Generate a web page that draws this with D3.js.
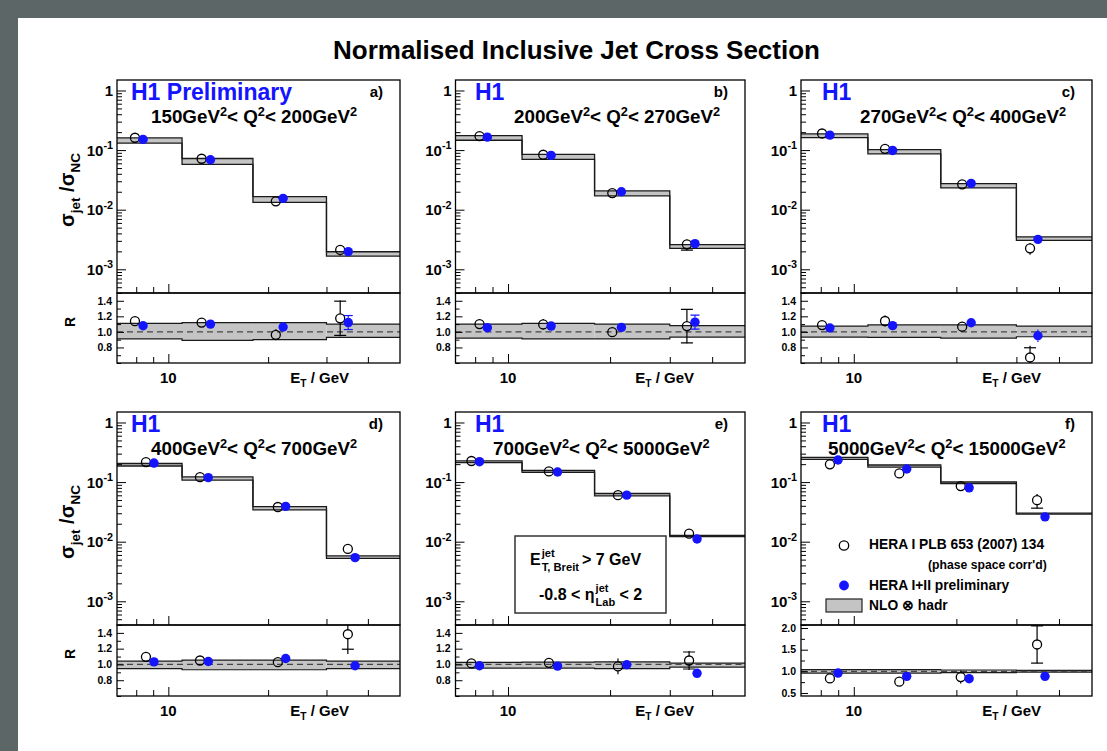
<!DOCTYPE html>
<html>
<head>
<meta charset="utf-8">
<script src="https://cdn.jsdelivr.net/npm/d3@7"></script>
<style>
  body { margin: 0; background: #fff; }
  svg { display: block; }
  text { font-family: "Liberation Sans", Arial, Helvetica, sans-serif; font-weight: bold; fill: #000; }
</style>
</head>
<body>
<svg id="chart" width="1107" height="751"></svg>
<script>
// ---------------- data ----------------
const etEdges = [7, 11, 18, 30, 50];
const xMinorTicks = [8, 9, 20, 30, 40];
const xMajorTicks = [10];
const xLabelValues = [10];
const xLabelText = ["10"];

const panelTags = ["a)", "b)", "c)", "d)", "e)", "f)"];
const q2Low = ["150", "200", "270", "400", "700", "5000"];
const q2High = ["200", "270", "400", "700", "5000", "15000"];
const h1Labels = ["H1 Preliminary", "H1", "H1", "H1", "H1", "H1"];

const sigmaTickValues = [1, 0.1, 0.01, 0.001];
const sigmaTickBase = ["1", "10", "10", "10"];
const sigmaTickExp = ["", "-1", "-2", "-3"];
const ratioTickValues = [0.8, 1.0, 1.2, 1.4];
const ratioTickText = ["0.8", "1.0", "1.2", "1.4"];
const ratioTickValuesF = [0.5, 1.0, 1.5, 2.0];
const ratioTickTextF = ["0.5", "1.0", "1.5", "2.0"];

// mean E_T of each measured bin (GeV)
const heraIEt = [
  [7.93, 12.6, 21.1, 33.0], [8.24, 12.7, 20.3, 33.7], [8.07, 12.35, 20.8, 32.9],
  [8.56, 12.46, 21.4, 34.8], [7.8, 13.2, 21.1, 34.2], [8.51, 13.6, 20.6, 34.5]
];
const heraIIEt = [
  [8.39, 13.4, 22.2, 34.9], [8.69, 13.4, 21.6, 35.6], [8.51, 13.0, 22.1, 34.7],
  [9.05, 13.2, 22.6, 36.6], [8.24, 14.0, 22.4, 36.1], [8.99, 14.3, 21.8, 36.4]
];

// normalised jet cross sections sigma_jet / sigma_NC
const heraIXsec = [
  [0.161, 0.0716, 0.0138, 0.00211], [0.172, 0.0835, 0.0190, 0.00262],
  [0.190, 0.105, 0.0266, 0.00225], [0.217, 0.121, 0.0382, 0.00756],
  [0.226, 0.151, 0.0604, 0.01365], [0.1985, 0.140, 0.0857, 0.0497]
];
const heraIIXsec = [
  [0.151, 0.0689, 0.0155, 0.00198], [0.165, 0.0814, 0.0200, 0.00269],
  [0.178, 0.0987, 0.0276, 0.00318], [0.2085, 0.119, 0.0392, 0.0054],
  [0.220, 0.1475, 0.0604, 0.0111], [0.235, 0.1656, 0.0802, 0.0261]
];
const nloXsec = [
  [0.144, 0.0645, 0.01476, 0.00179], [0.159, 0.0766, 0.0188, 0.00241],
  [0.174, 0.0932, 0.0252, 0.00326], [0.197, 0.1157, 0.0367, 0.00556],
  [0.222, 0.152, 0.0623, 0.01255], [0.25, 0.186, 0.0975, 0.0296]
];
// relative NLO x hadronisation uncertainty (up / down)
const nloErrUp = [
  [0.11, 0.12, 0.12, 0.10], [0.10, 0.11, 0.10, 0.08], [0.075, 0.09, 0.09, 0.075],
  [0.042, 0.054, 0.054, 0.042], [0.025, 0.03, 0.033, 0.017], [0.04, 0.04, 0.03, 0.02]
];
const nloErrDown = [
  [0.09, 0.11, 0.10, 0.07], [0.08, 0.09, 0.09, 0.067], [0.067, 0.07, 0.08, 0.0625],
  [0.054, 0.067, 0.067, 0.054], [0.046, 0.046, 0.054, 0.033], [0.04, 0.04, 0.03, 0.02]
];

// data / theory ratios
const heraIRatio = [
  [1.1375, 1.12, 0.9625, 1.175], [1.10, 1.096, 0.996, 1.075], [1.0875, 1.14, 1.067, 0.671],
  [1.096, 1.05, 1.029, 1.383], [1.0125, 1.02, 0.975, 1.05], [0.837, 0.76, 0.868, 1.62]
];
const heraIIRatio = [
  [1.079, 1.10, 1.0625, 1.12], [1.054, 1.075, 1.058, 1.125], [1.05, 1.08, 1.117, 0.95],
  [1.033, 1.0375, 1.075, 0.983], [0.983, 0.979, 0.996, 0.8875], [0.96, 0.884, 0.83, 0.884]
];
// total (line) and statistical (capped) uncertainties on the ratios
const heraITotErr = [
  [0.03, 0.03, 0.07, 0.23], [0.03, 0.07, 0.05, 0.22], [0.03, 0.07, 0.06, 0.15],
  [0.03, 0.03, 0.06, 0.25], [0.03, 0.03, 0.10, 0.12], [0.05, 0.05, 0.15, 0.44]
];
const heraIStatErr = [
  [0.02, 0.02, 0.04, 0.22], [0.02, 0.03, 0.03, 0.215], [0.02, 0.03, 0.03, 0.125],
  [0.02, 0.02, 0.03, 0.19], [0.02, 0.02, 0.03, 0.108], [0.03, 0.03, 0.12, 0.43]
];
const heraIITotErr = [
  [0.02, 0.02, 0.02, 0.09], [0.02, 0.02, 0.02, 0.09], [0.02, 0.02, 0.02, 0.08],
  [0.02, 0.02, 0.02, 0.05], [0.02, 0.02, 0.02, 0.04], [0.02, 0.02, 0.03, 0.05]
];
const heraIIStatErr = [
  [0.01, 0.01, 0.01, 0.09], [0.01, 0.01, 0.01, 0.09], [0.01, 0.01, 0.01, 0.05],
  [0.01, 0.01, 0.01, 0.03], [0.01, 0.01, 0.01, 0.03], [0.01, 0.01, 0.02, 0.03]
];

// ---------------- drawing ----------------
const BLUE = "#1414ff";
const BAND = "#c4c4c4";
const svg = d3.select("#chart");

svg.append("rect").attr("x", 0).attr("y", 0).attr("width", 1107).attr("height", 751).attr("fill", "#fff");
svg.append("rect").attr("x", 0).attr("y", 0).attr("width", 1107).attr("height", 18).attr("fill", "#5c6666");
svg.append("rect").attr("x", 0).attr("y", 0).attr("width", 18).attr("height", 751).attr("fill", "#5c6666");

svg.append("text").attr("x", 576.5).attr("y", 59).attr("text-anchor", "middle")
  .attr("font-size", 26).text("Normalised Inclusive Jet Cross Section");

const cols = [{ x0: 117, x1: 400 }, { x0: 455.5, x1: 745 }, { x0: 801, x1: 1092 }];
const rows = [{ top: 80, mid: 293, bot: 363 }, { top: 412, mid: 625, bot: 696 }];
const h1X = [131, 475, 822];
const q2X = [151, 514, 860, 151, 493, 828];

// text with super/subscripts built from tspans
function rich(g, x, y, parts, size, anchor, scriptScale, supRaise) {
  const sc = scriptScale || 0.68;
  const raise = supRaise || 0.42;
  const t = g.append("text").attr("x", x).attr("y", y)
    .attr("font-size", size).attr("text-anchor", anchor || "start");
  let shift = 0;
  parts.forEach(p => {
    const target = p.sup ? -raise * size : p.sub ? 0.3 * size : 0;
    const ts = t.append("tspan").attr("dy", target - shift).text(p.t);
    if (p.sup || p.sub) ts.attr("font-size", size * sc);
    shift = target;
  });
  return t;
}

function errorBar(g, x, yScale, v, tot, stat, rad, capHalf, color, yTop, yBot) {
  const yc = yScale(v);
  const yHi = Math.max(yScale(v + tot), yTop), yLo = Math.min(yScale(v - tot), yBot);
  if (yc - rad > yHi) g.append("line").attr("x1", x).attr("x2", x).attr("y1", yHi).attr("y2", yc - rad)
    .attr("stroke", color).attr("stroke-width", 1.2);
  if (yLo > yc + rad) g.append("line").attr("x1", x).attr("x2", x).attr("y1", yc + rad).attr("y2", yLo)
    .attr("stroke", color).attr("stroke-width", 1.2);
  [v + stat, v - stat].forEach(s => {
    const ys = yScale(s);
    if (Math.abs(ys - yc) > rad + 1 && ys > yTop && ys < yBot)
      g.append("line").attr("x1", x - capHalf).attr("x2", x + capHalf).attr("y1", ys).attr("y2", ys)
        .attr("stroke", color).attr("stroke-width", 1.2);
  });
}

function stepPath(xs, vals, yScale) {
  let d = "";
  vals.forEach((v, i) => {
    const y = yScale(v);
    d += (i === 0 ? "M" : "L") + xs(etEdges[i]) + "," + y + "L" + xs(etEdges[i + 1]) + "," + y;
  });
  return d;
}

for (let p = 0; p < 6; p++) {
  const c = cols[p % 3], r = rows[Math.floor(p / 3)];
  const g = svg.append("g");
  const x = d3.scaleLog().domain([7, 50]).range([c.x0, c.x1]);
  const y = d3.scaleLog().domain([4e-4, 1.5]).range([r.mid, r.top]);
  const yr = d3.scaleLinear().domain(p === 5 ? [0.43, 2.07] : [0.6, 1.5]).range([r.bot, r.mid]);

  const clipU = "clipU" + p, clipR = "clipR" + p;
  svg.append("clipPath").attr("id", clipU).append("rect")
    .attr("x", c.x0).attr("y", r.top).attr("width", c.x1 - c.x0).attr("height", r.mid - r.top);
  svg.append("clipPath").attr("id", clipR).append("rect")
    .attr("x", c.x0).attr("y", r.mid).attr("width", c.x1 - c.x0).attr("height", r.bot - r.mid);

  // ---- upper pad: cross sections ----
  const gu = g.append("g").attr("clip-path", `url(#${clipU})`);
  const hi = nloXsec[p].map((v, i) => v * (1 + nloErrUp[p][i]));
  const lo = nloXsec[p].map((v, i) => v * (1 - nloErrDown[p][i]));
  nloXsec[p].forEach((v, i) => {
    gu.append("rect").attr("x", x(etEdges[i])).attr("width", x(etEdges[i + 1]) - x(etEdges[i]))
      .attr("y", y(hi[i])).attr("height", y(lo[i]) - y(hi[i])).attr("fill", BAND);
  });
  [hi, lo].forEach(arr => gu.append("path").attr("d", stepPath(x, arr, y))
    .attr("fill", "none").attr("stroke", "#1a1a1a").attr("stroke-width", 1.3));

  heraIXsec[p].forEach((v, i) => {
    const rel = heraITotErr[p][i] / heraIRatio[p][i], relS = heraIStatErr[p][i] / heraIRatio[p][i];
    const yc = y(v);
    const yH = y(v * (1 + rel)), yL = y(v * (1 - rel));
    const xs = x(heraIEt[p][i]);
    if (yc - 4.5 > yH) gu.append("line").attr("x1", xs).attr("x2", xs).attr("y1", yH).attr("y2", yc - 4.5).attr("stroke", "#000").attr("stroke-width", 1.2);
    if (yL > yc + 4.5) gu.append("line").attr("x1", xs).attr("x2", xs).attr("y1", yc + 4.5).attr("y2", yL).attr("stroke", "#000").attr("stroke-width", 1.2);
    const yS = y(v * (1 - relS));
    if (yS - yc > 5.5) gu.append("line").attr("x1", xs - 6).attr("x2", xs + 6).attr("y1", yS).attr("y2", yS).attr("stroke", "#000").attr("stroke-width", 1.2);
    gu.append("circle").attr("cx", xs).attr("cy", yc).attr("r", 4.5)
      .attr("fill", "none").attr("stroke", "#000").attr("stroke-width", 1.3);
  });
  heraIIXsec[p].forEach((v, i) => {
    gu.append("circle").attr("cx", x(heraIIEt[p][i])).attr("cy", y(v)).attr("r", 4.7).attr("fill", BLUE);
  });

  // ---- ratio pad ----
  const gr = g.append("g").attr("clip-path", `url(#${clipR})`);
  const rHi = nloErrUp[p].map(e => 1 + e), rLo = nloErrDown[p].map(e => 1 - e);
  rHi.forEach((v, i) => {
    gr.append("rect").attr("x", x(etEdges[i])).attr("width", x(etEdges[i + 1]) - x(etEdges[i]))
      .attr("y", yr(v)).attr("height", yr(rLo[i]) - yr(v)).attr("fill", BAND);
  });
  [rHi, rLo].forEach(arr => gr.append("path").attr("d", stepPath(x, arr, yr))
    .attr("fill", "none").attr("stroke", "#1a1a1a").attr("stroke-width", 1.2));
  gr.append("line").attr("x1", c.x0).attr("x2", c.x1).attr("y1", yr(1)).attr("y2", yr(1))
    .attr("stroke", "#444").attr("stroke-width", 1.3).attr("stroke-dasharray", "6,4");

  heraIRatio[p].forEach((v, i) => {
    const xs = x(heraIEt[p][i]);
    errorBar(gr, xs, yr, v, heraITotErr[p][i], heraIStatErr[p][i], 4.5, 6, "#000", r.mid, r.bot);
    gr.append("circle").attr("cx", xs).attr("cy", yr(v)).attr("r", 4.5)
      .attr("fill", "none").attr("stroke", "#000").attr("stroke-width", 1.3);
  });
  heraIIRatio[p].forEach((v, i) => {
    const xs = x(heraIIEt[p][i]);
    errorBar(gr, xs, yr, v, heraIITotErr[p][i], heraIIStatErr[p][i], 4.7, 4.5, BLUE, r.mid, r.bot);
    gr.append("circle").attr("cx", xs).attr("cy", yr(v)).attr("r", 4.7).attr("fill", BLUE);
  });

  // ---- axes (ticks drawn inside the frames) ----
  const tickStyle = sel => {
    sel.select(".domain").remove();
    sel.selectAll("line").attr("stroke", "#000").attr("stroke-width", 1);
    sel.selectAll("text").remove();
  };
  const minorLog = [];
  sigmaTickValues.forEach(d => { for (let k = 2; k <= 9; k++) { const v = d * k; if (v <= 1.5) minorLog.push(v); } });
  for (let k = 4; k <= 9; k++) minorLog.push(k * 1e-4);
  g.append("g").attr("transform", `translate(${c.x0},0)`)
    .call(d3.axisLeft(y).tickValues(sigmaTickValues).tickSize(-9)).call(tickStyle);
  g.append("g").attr("transform", `translate(${c.x0},0)`)
    .call(d3.axisLeft(y).tickValues(minorLog).tickSize(-5)).call(tickStyle);
  [r.mid, r.bot].forEach(yy => {
    g.append("g").attr("transform", `translate(0,${yy})`)
      .call(d3.axisBottom(x).tickValues(xMajorTicks).tickSize(-9)).call(tickStyle);
    g.append("g").attr("transform", `translate(0,${yy})`)
      .call(d3.axisBottom(x).tickValues(xMinorTicks).tickSize(-6)).call(tickStyle);
  });
  const rMaj = p === 5 ? ratioTickValuesF : ratioTickValues;
  const rText = p === 5 ? ratioTickTextF : ratioTickText;
  const rStep = p === 5 ? 0.25 : 0.1;
  const rMinor = d3.range(Math.ceil(yr.domain()[0] / rStep) * rStep, yr.domain()[1], rStep)
    .filter(v => !rMaj.some(m => Math.abs(m - v) < 1e-6));
  g.append("g").attr("transform", `translate(${c.x0},0)`)
    .call(d3.axisLeft(yr).tickValues(rMaj).tickSize(-7)).call(tickStyle);
  g.append("g").attr("transform", `translate(${c.x0},0)`)
    .call(d3.axisLeft(yr).tickValues(rMinor).tickSize(-4)).call(tickStyle);

  // frames
  [[r.top, r.mid], [r.mid, r.bot]].forEach(([t, b]) =>
    g.append("rect").attr("x", c.x0).attr("y", t).attr("width", c.x1 - c.x0).attr("height", b - t)
      .attr("fill", "none").attr("stroke", "#000").attr("stroke-width", 1.3));

  // tick labels
  sigmaTickValues.forEach((v, i) => {
    rich(g, c.x0 - 4, y(v) + 5.5, [{ t: sigmaTickBase[i] }].concat(sigmaTickExp[i] ? [{ t: sigmaTickExp[i], sup: true }] : []), 15, "end", 0.72);
  });
  rMaj.forEach((v, i) => {
    g.append("text").attr("x", c.x0 - 5).attr("y", yr(v) + 3.8).attr("text-anchor", "end")
      .attr("font-size", 10.5).text(rText[i]);
  });
  xLabelValues.forEach((v, i) => {
    g.append("text").attr("x", x(v)).attr("y", r.bot + 19.5).attr("text-anchor", "middle")
      .attr("font-size", 15).text(xLabelText[i]);
  });
  rich(g, c.x1 - 51, r.bot + 19.5, [{ t: "E" }, { t: "T", sub: true }, { t: " / GeV" }], 15, "end");

  // pad annotations
  g.append("text").attr("x", h1X[p % 3]).attr("y", r.top + 20).attr("font-size", 23)
    .style("fill", BLUE).text(h1Labels[p]);
  g.append("text").attr("x", c.x1 - 17).attr("y", r.top + 17).attr("text-anchor", "end")
    .attr("font-size", 15).text(panelTags[p]);
  rich(g, q2X[p], r.top + 43, [
    { t: q2Low[p] + "GeV" }, { t: "2", sup: true }, { t: "< Q" }, { t: "2", sup: true },
    { t: "< " + q2High[p] + "GeV" }, { t: "2", sup: true }
  ], 18.8, "start", 0.68, 0.37);

  if (p % 3 === 0) {
    const gy = g.append("g").attr("transform", `translate(74,${r.top + 110}) rotate(-90)`);
    rich(gy, 0, 0, [{ t: "σ" }, { t: "jet", sub: true }, { t: " /σ" }, { t: "NC", sub: true }], 20, "middle");
    const gR = g.append("g").attr("transform", `translate(75,${r.mid + 29}) rotate(-90)`);
    gR.append("text").attr("x", 0).attr("y", 0).attr("text-anchor", "middle").attr("font-size", 14).text("R");
  }
}

// ---- cut box in panel e ----
const box = svg.append("g");
box.append("rect").attr("x", 515).attr("y", 536).attr("width", 151).attr("height", 77)
  .attr("fill", "#fff").attr("stroke", "#333").attr("stroke-width", 1.5);
function stacked(g, x, y, base, sup, sub, rest, size) {
  const t1 = g.append("text").attr("x", x).attr("y", y).attr("font-size", size).text(base);
  const w = t1.node().getComputedTextLength();
  const s1 = g.append("text").attr("x", x + w + 1).attr("y", y - 0.5 * size).attr("font-size", size * 0.7).text(sup);
  const s2 = g.append("text").attr("x", x + w + 1).attr("y", y + 0.38 * size).attr("font-size", size * 0.7).text(sub);
  const w2 = Math.max(s1.node().getComputedTextLength(), s2.node().getComputedTextLength());
  g.append("text").attr("x", x + w + w2 + 4).attr("y", y).attr("font-size", size).text(rest);
}
const gb1 = box.append("g");
stacked(gb1, 530, 565, "E", "jet", "T, Breit", "> 7 GeV", 16);
const gb2 = box.append("g");
gb2.append("text").attr("x", 539).attr("y", 600).attr("font-size", 16).text("-0.8 < η");
const w0 = gb2.select("text").node().getComputedTextLength();
gb2.append("text").attr("x", 539 + w0 + 1).attr("y", 592).attr("font-size", 11).text("jet");
gb2.append("text").attr("x", 539 + w0 + 1).attr("y", 606).attr("font-size", 11).text("Lab");
gb2.append("text").attr("x", 539 + w0 + 25).attr("y", 600).attr("font-size", 16).text("< 2");

// ---- legend in panel f ----
const lg = svg.append("g");
lg.append("circle").attr("cx", 844).attr("cy", 545.5).attr("r", 4.7).attr("fill", "none").attr("stroke", "#000").attr("stroke-width", 1.3);
lg.append("text").attr("x", 869).attr("y", 549).attr("font-size", 13.8).text("HERA I PLB 653 (2007) 134");
lg.append("text").attr("x", 928).attr("y", 569).attr("font-size", 12.2).text("(phase space corr'd)");
lg.append("circle").attr("cx", 844).attr("cy", 585.5).attr("r", 4.9).attr("fill", BLUE);
lg.append("text").attr("x", 869).attr("y", 590).attr("font-size", 13.8).text("HERA I+II preliminary");
lg.append("rect").attr("x", 826).attr("y", 599).attr("width", 36).attr("height", 13).attr("fill", BAND).attr("stroke", "#222").attr("stroke-width", 1.2);
lg.append("text").attr("x", 869).attr("y", 610).attr("font-size", 13.8).text("NLO ⊗ hadr");
</script>
</body>
</html>
